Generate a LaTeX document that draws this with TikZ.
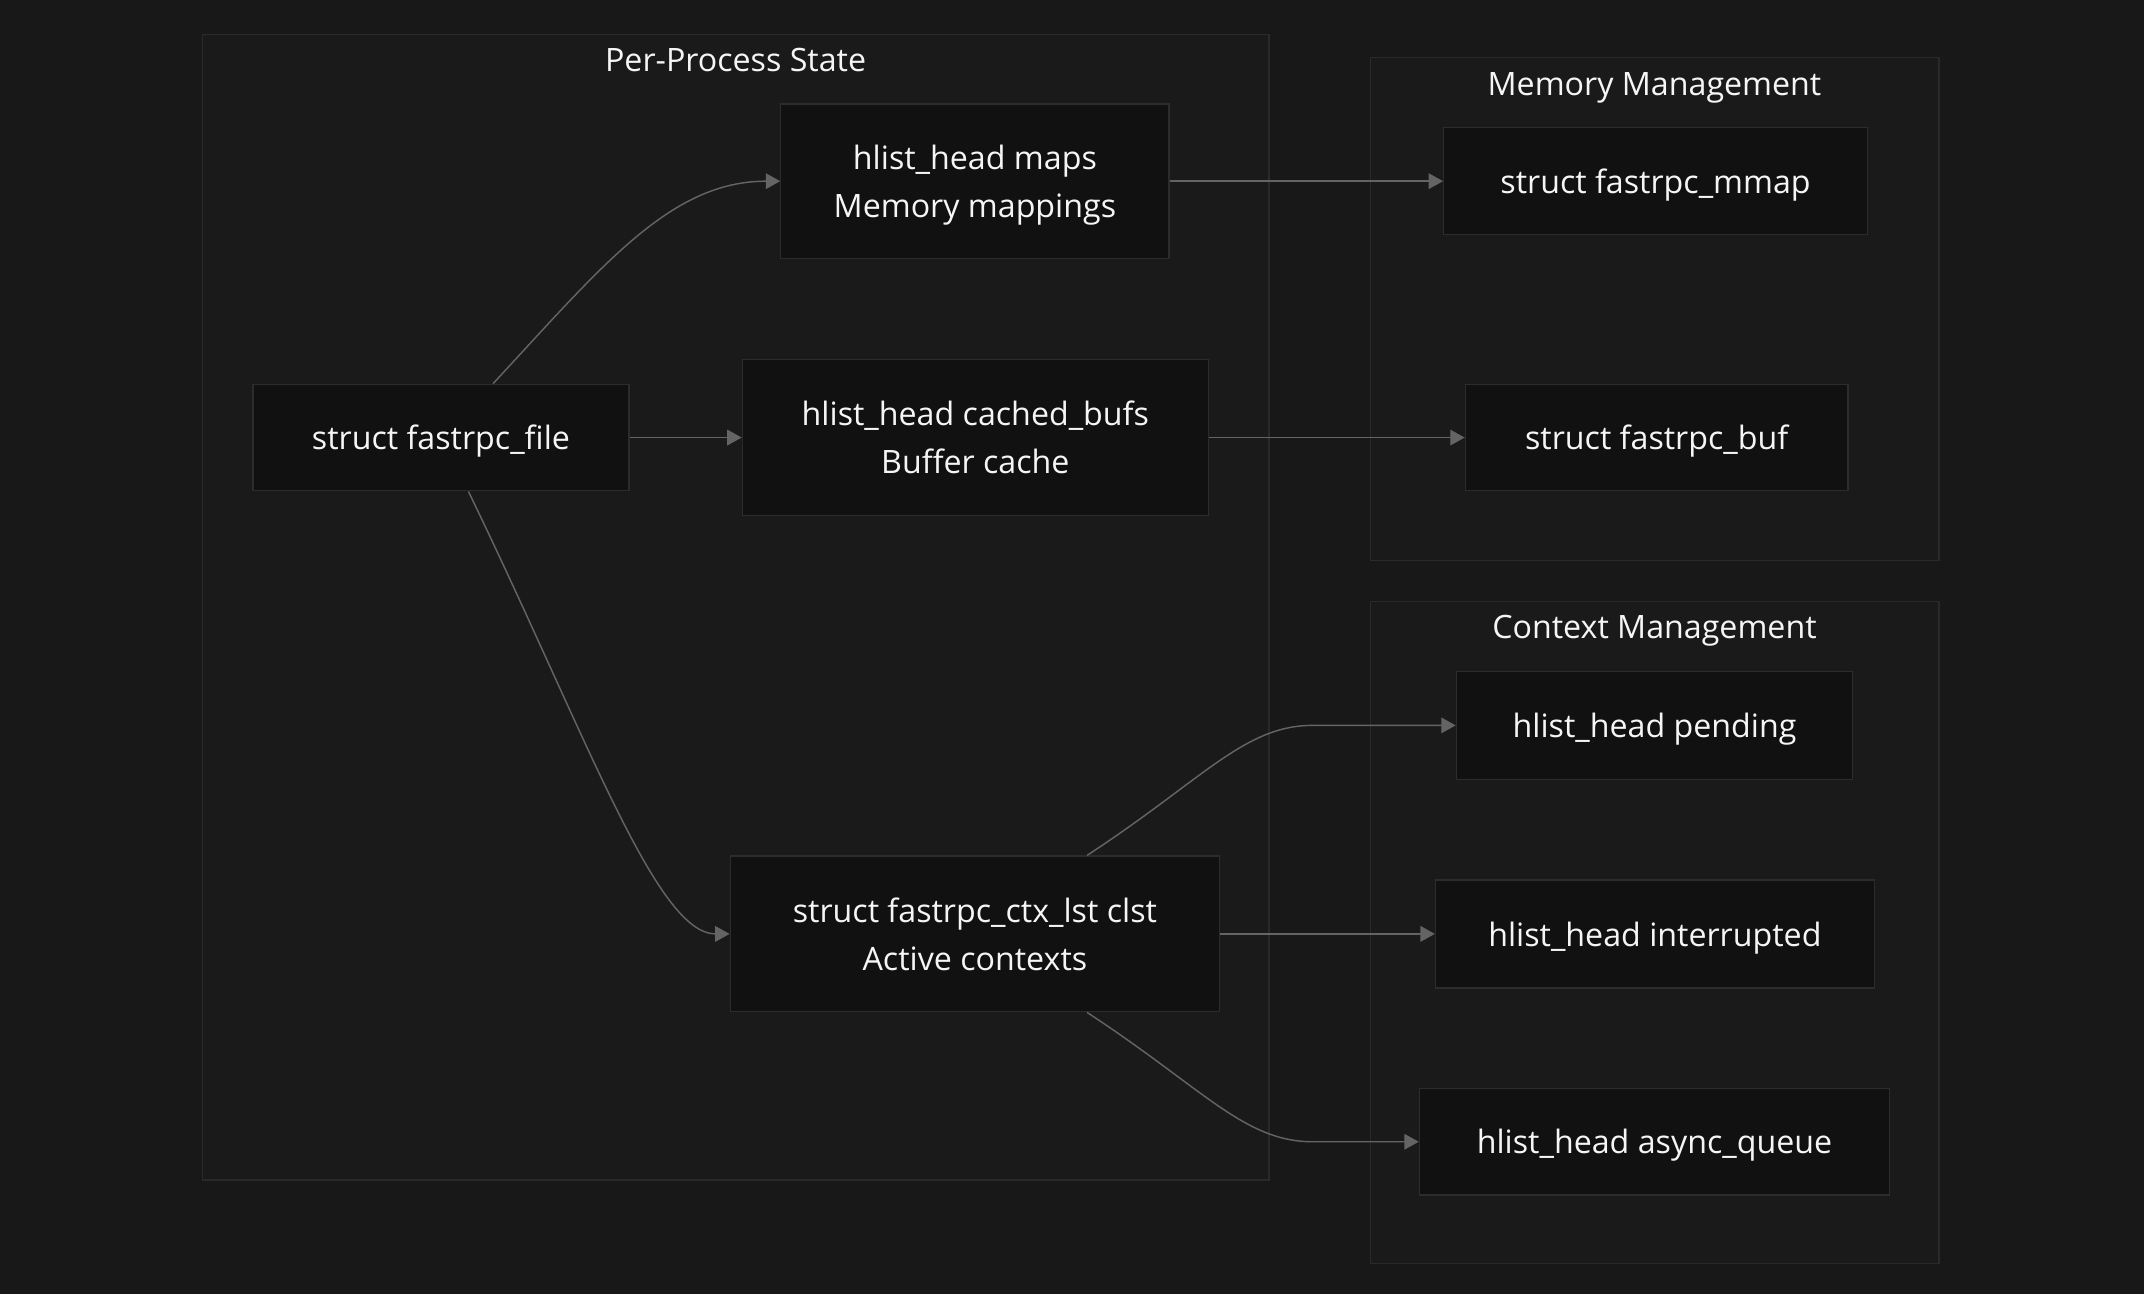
\documentclass[tikz,border=0pt]{standalone}
\usepackage{fontspec}
\setmainfont{Open Sans}
\usepackage{tikz}
\usetikzlibrary{arrows.meta,positioning}

\definecolor{bgcol}{HTML}{181818}
\definecolor{groupfill}{HTML}{1A1A1A}
\definecolor{groupline}{HTML}{2A2A2A}
\definecolor{fieldfill}{HTML}{111111}
\definecolor{fieldline}{HTML}{2C2C2C}
\definecolor{linkcol}{HTML}{646464}
\definecolor{txtcol}{HTML}{F5F5F5}

\begin{document}
\begin{tikzpicture}[x=0.02cm,y=-0.02cm,>={Triangle[length=6pt,width=6.5pt]},
                    font=\fontsize{13.4}{20}\selectfont]
  \tikzstyle{every node}=[text=txtcol]
  \tikzstyle{field}=[draw=fieldline,fill=fieldfill,line width=0.5pt,align=center,inner sep=0pt,text depth=0pt]
  \tikzstyle{group}=[draw=groupline,fill=groupfill,line width=0.5pt]
  \tikzstyle{link}=[->,color=linkcol,line width=0.6pt]

  \fill[bgcol] (0,0) rectangle (1568,946.4);
  \useasboundingbox (0,0) rectangle (1568,946.4);

  % subgraphs
  \draw[group] (148,25) rectangle (928,863);
  \draw[group] (1002,42) rectangle (1418,410);
  \draw[group] (1002,440) rectangle (1418,924);
  \node (proc) at (538,44) {Per-Process State};
  \node (mem)  at (1210,64) {Memory Management};
  \node (ctx)  at (1210,461) {Context Management};

  \node[field,minimum width=5.5cm,minimum height=1.56cm]  (file) at (322.5,320) {struct fastrpc\_file};
  \node[field,minimum width=5.68cm,minimum height=2.26cm] (maps) at (713,132.5) {hlist\_head maps\\Memory mappings};
  \node[field,minimum width=6.82cm,minimum height=2.28cm] (cached) [right=1.64cm of file] {hlist\_head cached\_bufs\\Buffer cache};
  \node[field,minimum width=7.16cm,minimum height=2.28cm] (clst) at (713,683) {struct fastrpc\_ctx\_lst clst\\Active contexts};

  \node[field,minimum width=6.2cm,minimum height=1.56cm]  (mmap) [right=4cm of maps] {struct fastrpc\_mmap};
  \node[field,minimum width=5.6cm,minimum height=1.56cm]  (buf) [right=3.74cm of cached] {struct fastrpc\_buf};

  \node[field,minimum width=5.8cm,minimum height=1.58cm]  (pending) at (1210,530.5) {hlist\_head pending};
  \node[field,minimum width=6.42cm,minimum height=1.58cm] (intr) [right=3.14cm of clst] {hlist\_head interrupted};
  \node[field,minimum width=6.88cm,minimum height=1.56cm] (async) at (1210,835) {hlist\_head async\_queue};

  \path[link] (file) edge (cached)
              (maps) edge (mmap)
              (cached) edge (buf)
              (clst) edge (intr);
  \draw[link] (file.46) .. controls (440,195) and (490,132.5) .. (maps.west);
  \draw[link] (file.-63) .. controls (430,540) and (480,683) .. (clst.west);
  \draw[link] (clst.35) .. controls (880,570) and (910,530.5) .. (960,530.5) -- (pending.west);
  \draw[link] (clst.-35) .. controls (880,796) and (910,835) .. (960,835) -- (async.west);
\end{tikzpicture}
\end{document}
